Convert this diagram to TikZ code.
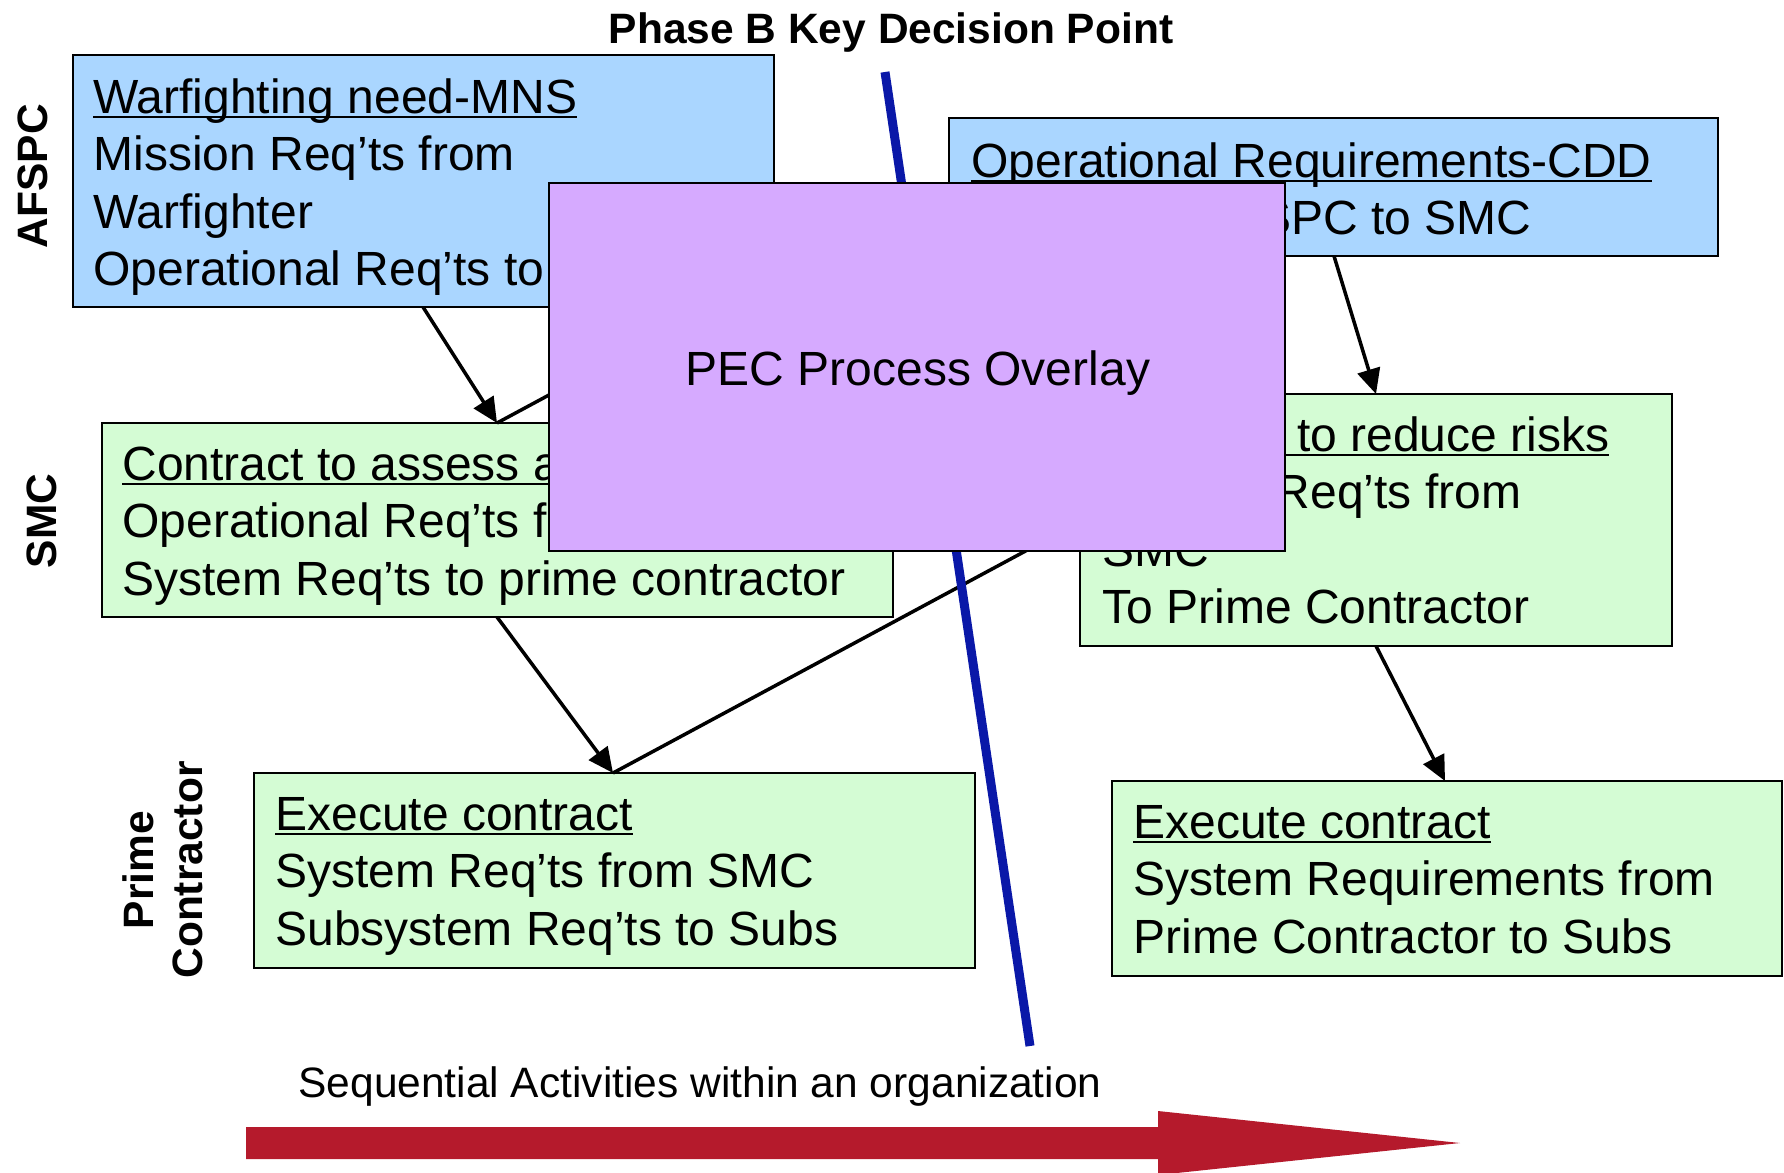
\documentclass[tikz,border=0pt]{standalone}
\usepackage{fontspec}
\setmainfont{Liberation Sans}
\usetikzlibrary{arrows.meta,calc}
\definecolor{boxblue}{RGB}{170,214,255}
\definecolor{boxgreen}{RGB}{212,252,212}
\definecolor{overlaypurple}{RGB}{214,170,255}
\definecolor{kdpblue}{RGB}{10,24,168}
\definecolor{seqred}{RGB}{181,26,44}
\newcommand\ulx[1]{\leavevmode\setbox0=\hbox{#1}\rlap{\rule[-2.6pt]{\wd0}{1.3pt}}\box0}
\begin{document}
\begin{tikzpicture}[x=0.5pt,y=-0.5pt,
  box/.style={draw=black, line width=1.1pt, anchor=north west, inner sep=0, outer sep=0},
  bluebox/.style={box, fill=boxblue},
  greenbox/.style={box, fill=boxgreen},
  boxtext/.style={anchor=base west, inner sep=0, font=\fontsize{24}{28.75}\selectfont},
  conn/.style={line width=1.75pt, draw=black},
  arr/.style={conn, -{Triangle[length=12.5pt,width=11.5pt]}},
  kdp/.style={draw=kdpblue, line width=4.5pt},
  side/.style={rotate=90, font=\fontsize{21.25}{24.5}\selectfont\bfseries, align=center, inner sep=0},
  label/.style={inner sep=0, font=\fontsize{21.25}{25}\selectfont}]
\useasboundingbox (0,0) rectangle (1784,1173);

% boxes
\node[bluebox, minimum width=350.5pt, minimum height=126pt] (A1) at (73,55) {};
\node[bluebox, minimum width=384.5pt, minimum height=69pt] (A2) at (949,118) {};
\node[greenbox, minimum width=395.5pt, minimum height=97pt] (S1) at (102,423) {};
\node[greenbox, minimum width=296pt, minimum height=126pt] (S2) at (1080,394) {};
\node[greenbox, minimum width=360.5pt, minimum height=97.5pt] (P1) at (254,773) {};
\node[greenbox, minimum width=335pt, minimum height=97.5pt] (P2) at (1112,781) {};

% box texts
\node[boxtext] (tA1) at (93,113) {\parbox[t]{400pt}{\ulx{Warfighting need-MNS}\\Mission Req’ts from\\Warfighter\\Operational Req’ts to SMC}};
\node[boxtext] (tA2) at (971,177) {\parbox[t]{400pt}{\ulx{Operational Requirements-CDD}\\CDD from AFSPC to SMC}};
\node[boxtext] (tS1) at (122,480) {\parbox[t]{400pt}{\ulx{Contract to assess alternatives}\\Operational Req’ts from AFSPC\\System Req’ts to prime contractor}};
\node[boxtext] (tS2) at (1102,451) {\parbox[t]{400pt}{\ulx{Contract to reduce risks}\\System Req’ts from\\SMC\\To Prime Contractor}};
\node[boxtext] (tP1) at (275,830) {\parbox[t]{400pt}{\ulx{Execute contract}\\System Req’ts from SMC\\Subsystem Req’ts to Subs}};
\node[boxtext] (tP2) at (1133,838) {\parbox[t]{400pt}{\ulx{Execute contract}\\System Requirements from\\Prime Contractor to Subs}};

% connectors
\coordinate (hidS) at (640,346);
\coordinate (hidP) at (1150,484);
\draw[arr] ($(A1.south west)+(350,0)$) -- ($(S1.north west)+(395,0)$);
\draw[conn] ($(S1.north west)+(395,0)$) -- (hidS);
\draw[arr] ($(S1.south west)+(395,0)$) -- ($(P1.north west)+(359,0)$);
\draw[conn] ($(P1.north west)+(359,0)$) -- (hidP);
\draw[arr] ($(A2.south west)+(385,0)$) -- ($(S2.north west)+(296,0)$);
\draw[arr] ($(S2.south west)+(296,0)$) -- ($(P2.north west)+(333,0)$);

% key decision point line
\coordinate (kdpTop) at (885,72);
\coordinate (kdpBot) at (1030,1046);
\draw[kdp] (kdpTop) -- (kdpBot);

% overlay
\node[box, fill=overlaypurple, minimum width=368pt, minimum height=184pt] (PEC) at (549,183) {};
\node[inner sep=0, anchor=base, font=\fontsize{24}{28.75}\selectfont] (PECtext) at (918,385) {PEC Process Overlay};

% labels
\node[label, font=\fontsize{21.25}{25}\selectfont\bfseries, anchor=base] (title) at (891,43) {Phase B Key Decision Point};
\node[side] (afspc) at (33,176) {AFSPC};
\node[side] (smc) at (42,521) {SMC};
\node[side] (prime) at (163,870) {Prime\\Contractor};
\node[label, anchor=base west] (seq) at (298,1097) {Sequential Activities within an organization};

% sequential arrow
\fill[seqred] (246,1127) -- (1158,1127) -- (1158,1111) -- (1460,1143) -- (1158,1175) -- (1158,1159) -- (246,1159) -- cycle;
\end{tikzpicture}
\end{document}
